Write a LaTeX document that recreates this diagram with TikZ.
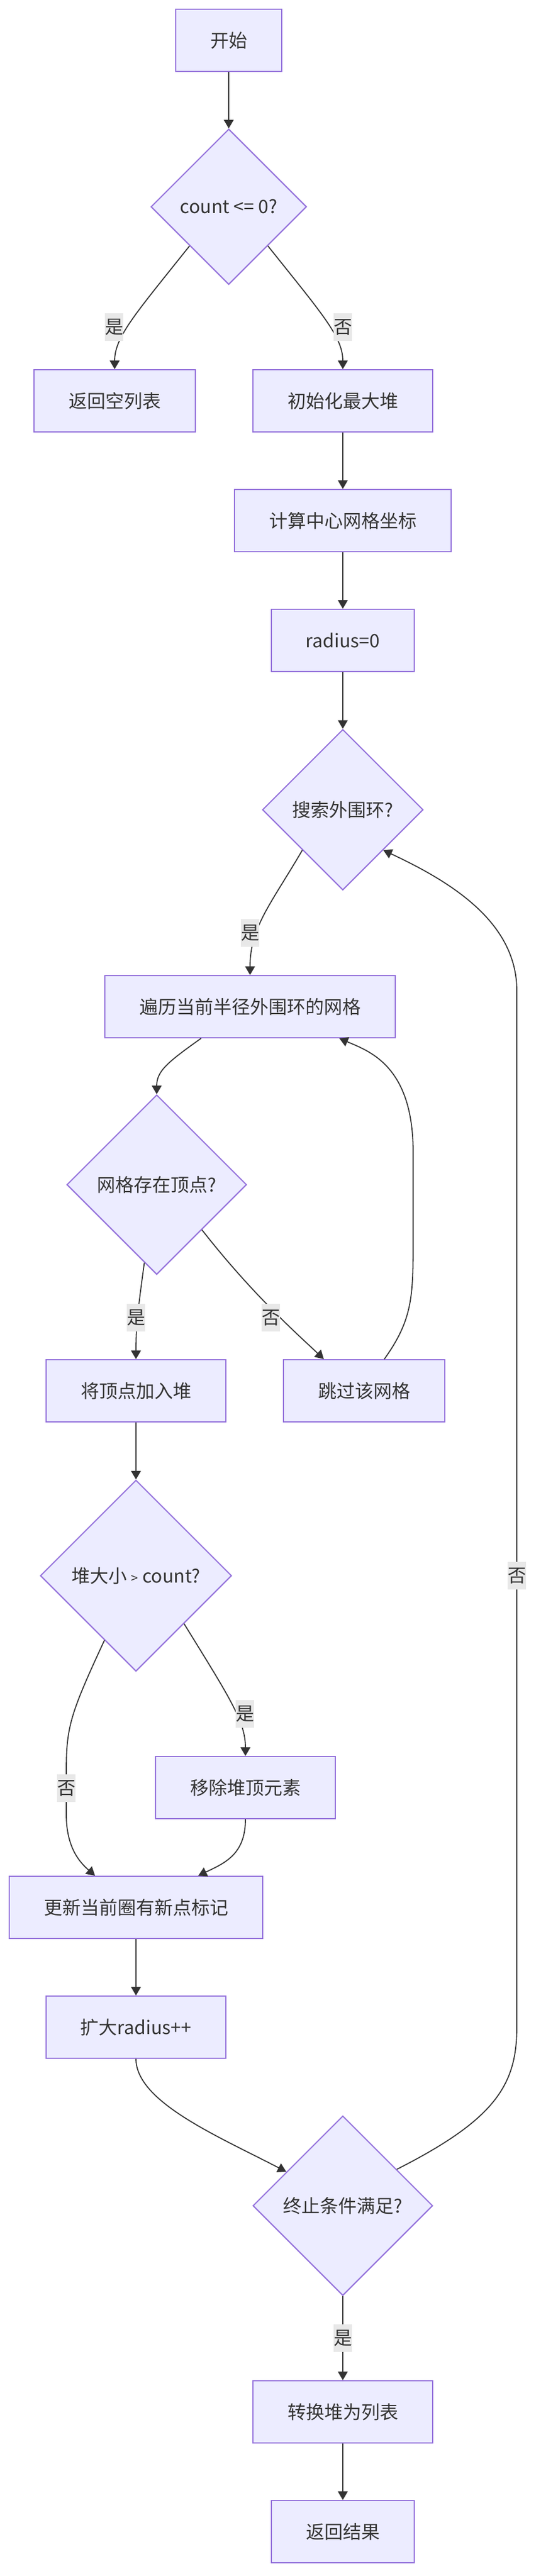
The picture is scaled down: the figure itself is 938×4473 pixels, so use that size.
\documentclass[tikz,border=0pt]{standalone}
\usepackage{fontspec}
\setmainfont{Noto Sans CJK SC}
\usepackage{tikz}
\usetikzlibrary{positioning,arrows.meta,shapes.geometric}
\definecolor{boxfill}{RGB}{236,236,255}
\definecolor{boxline}{RGB}{147,112,219}
\definecolor{flowline}{RGB}{51,51,51}
\definecolor{txt}{RGB}{51,51,51}
\definecolor{labelbg}{RGB}{232,232,232}

\begin{document}
\begin{tikzpicture}[x=1pt,y=-1pt,
    proc/.style={rectangle,draw=boxline,fill=boxfill,line width=2pt,text=txt,
        font=\fontsize{32}{38}\selectfont,inner xsep=60pt,inner ysep=0pt,minimum height=108pt},
    cond/.style={diamond,aspect=1,draw=boxline,fill=boxfill,line width=2pt,text=txt,
        font=\fontsize{32}{38}\selectfont,inner sep=0pt},
    flow/.style={draw=flowline,line width=1.8pt,-{Triangle[length=15pt,width=17pt]}},
    lab/.style={fill=labelbg,text=txt,font=\fontsize{32}{38}\selectfont,
        inner xsep=0pt,inner ysep=0pt,minimum height=48pt}]

    % Fond
    \fill[white] (0,0) rectangle (938,4473);
    \useasboundingbox (0,0) rectangle (938,4473);

    % Noeuds
    \node[proc] (start) at (397,70) {开始};
    \node[cond,minimum size=270pt] (checkcount) at (397,359) {count <= 0?};
    \node[proc] (retempty) at (199,696) {返回空列表};
    \node[proc] (initheap) at (595,696) {初始化最大堆};
    \node[proc] (gridcenter) at (595,904) {计算中心网格坐标};
    \node[proc] (radius) at (595,1112) {radius=0};
    \node[cond,minimum size=279pt] (searchring) at (595,1406) {搜索外围环?};
    \node[proc] (traverse) at (434,1748) {遍历当前半径外围环的网格};
    \node[cond,minimum size=312pt] (hasvertex) at (272,2057) {网格存在顶点?};
    \node[proc] (pushheap) at (236,2415) {将顶点加入堆};
    \node[proc] (skipcell) at (632,2415) {跳过该网格};
    \node[cond,minimum size=332pt] (heapsize) at (236,2736) {堆大小 {\fontsize{22}{26}\selectfont >} count?};
    \node[proc] (popheap) at (426,3104) {移除堆顶元素};
    \node[proc] (update) at (236,3312) {更新当前圈有新点标记};
    \node[proc] (expand) at (236,3520) {扩大radius++};
    \node[cond,minimum size=312pt] (stopcheck) at (595,3830) {终止条件满足?};
    \node[proc] (tolist) at (595,4188) {转换堆为列表};
    \node[proc] (result) at (595,4396) {返回结果};

    % Liaisons
    \draw[flow] (start.south) -- (checkcount.north);
    \draw[flow] (checkcount.south west) .. controls (235,545) and (199,585) .. (retempty.north);
    \draw[flow] (checkcount.south east) .. controls (559,545) and (595,585) .. (initheap.north);
    \draw[flow] (initheap.south) -- (gridcenter.north);
    \draw[flow] (gridcenter.south) -- (radius.north);
    \draw[flow] (radius.south) -- (searchring.north);
    \draw[flow] (searchring.south west) .. controls (470,1570) and (434,1610) .. (traverse.north);
    \draw[flow] ([xshift=-85pt]traverse.south) .. controls (290,1845) and (272,1860) .. (hasvertex.north);
    \draw[flow] (hasvertex.-99) .. controls (240,2270) and (236,2300) .. (pushheap.north);
    \draw[flow] (hasvertex.south east) .. controls (440,2250) and (520,2320) .. ([xshift=-70pt]skipcell.north);
    \draw[flow] ([xshift=35pt]skipcell.north) .. controls (717,2290) and (717,2250) .. (717,2150)
        -- (717,2000) .. controls (717,1850) and (640,1825) .. ([xshift=155pt]traverse.south);
    \draw[flow] (pushheap.south) -- (heapsize.north);
    \draw[flow] (heapsize.south east) .. controls (400,2950) and (426,2990) .. (popheap.north);
    \draw[flow] (heapsize.-116) .. controls (120,2980) and (115,3000) .. (115,3080)
        -- (115,3150) .. controls (115,3210) and (140,3235) .. ([xshift=-71pt]update.north);
    \draw[flow] (popheap.south) .. controls (426,3220) and (390,3235) .. ([xshift=108pt]update.north);
    \draw[flow] (update.south) -- (expand.north);
    \draw[flow] (expand.south) .. controls (236,3650) and (380,3710) .. (stopcheck.149);
    \draw[flow] (stopcheck.34) .. controls (860,3680) and (897,3620) .. (897,3520)
        -- (897,1720) .. controls (897,1600) and (780,1530) .. (searchring.south east);
    \draw[flow] (stopcheck.south) -- (tolist.north);
    \draw[flow] (tolist.south) -- (result.north);

    % Etiquettes
    \node[lab] (yes1) at (198,568) {是};
    \node[lab] (no1) at (595,568) {否};
    \node[lab] (yes2) at (434,1620) {是};
    \node[lab] (yes3) at (236,2288) {是};
    \node[lab] (no2) at (470,2288) {否};
    \node[lab] (no3) at (897,2736) {否};
    \node[lab] (yes4) at (425,2976) {是};
    \node[lab] (no4) at (115,3105) {否};
    \node[lab] (yes5) at (595,4060) {是};

\end{tikzpicture}
\end{document}
